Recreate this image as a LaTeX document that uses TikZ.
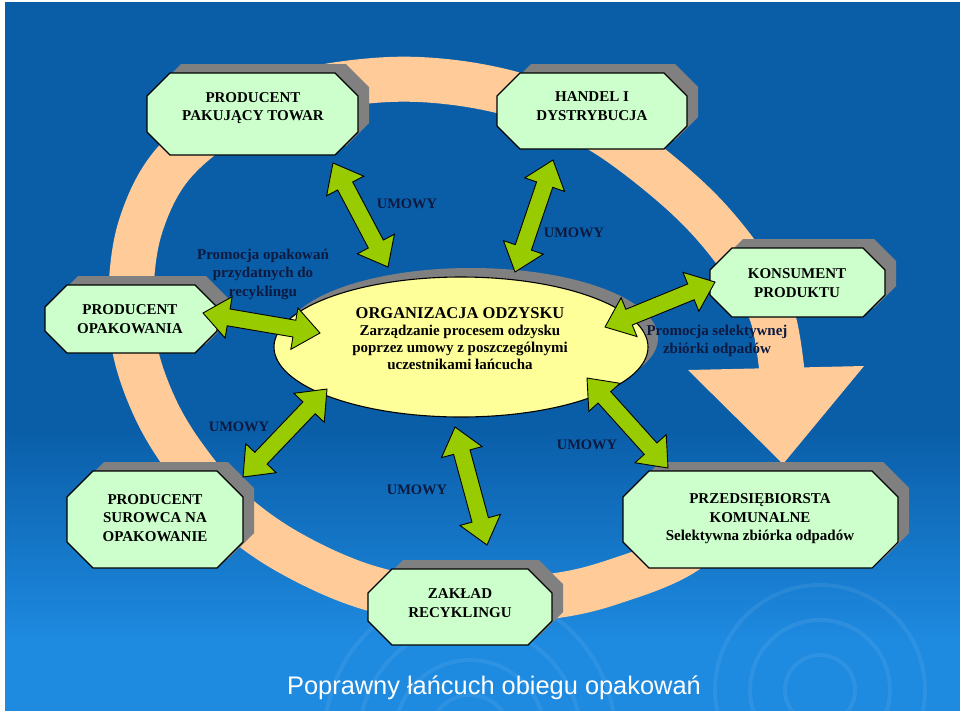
\documentclass[tikz,border=0pt]{standalone}
\usepackage{fontspec}
\setmainfont{Liberation Serif}
\newfontfamily\titlefont{Liberation Sans}
\usetikzlibrary{calc}
\definecolor{bgdark}{HTML}{0A5EA8}
\definecolor{bglight}{HTML}{1E8AE0}
\definecolor{peach}{HTML}{FFCC99}
\definecolor{boxgreen}{HTML}{CCFFCC}
\definecolor{shadowgray}{HTML}{808080}
\definecolor{ellyellow}{HTML}{FFFF99}
\definecolor{arrowgreen}{HTML}{99CC00}
\definecolor{navy}{HTML}{0D1A40}
\tikzset{
 boxtext/.style={align=center, font=\bfseries\fontsize{15}{18.5}\selectfont, text=black, inner sep=0pt},
 lbl/.style={align=center, font=\bfseries\fontsize{15}{18.5}\selectfont, text=navy, inner sep=0pt},
 umowy/.style={font=\bfseries\fontsize{14.5}{17}\selectfont, text=navy, inner sep=0pt},
 garrow/.style={fill=arrowgreen, draw=black, line width=0.9pt, line join=miter},
 octfill/.style={fill=boxgreen, draw=black, line width=1.1pt},
 octshadow/.style={fill=shadowgray},
 ripple/.style={draw=white, opacity=0.07, line width=4pt},
}
\newcommand\octpath[5]{({#1+#5},#2) -- ({#3-#5},#2) -- (#3,{#2+#5}) -- (#3,{#4-#5}) -- ({#3-#5},#4) -- ({#1+#5},#4) -- (#1,{#4-#5}) -- (#1,{#2+#5}) -- cycle}
\newcommand\octbox[5]{\fill[octshadow,shift={(11,-9)}] \octpath{#1}{#2}{#3}{#4}{#5}; \draw[octfill] \octpath{#1}{#2}{#3}{#4}{#5};}
\newcommand\dblarrow[2]{%
 \path ($(#1)!26pt!(#2)$) coordinate (ha) ($(#2)!26pt!(#1)$) coordinate (hb);
 \draw[garrow] (#1) -- ($(ha)!21pt!90:(#2)$) -- ($(ha)!8.5pt!90:(#2)$) -- ($(hb)!8.5pt!-90:(#1)$) -- ($(hb)!21pt!-90:(#1)$) -- (#2) -- ($(hb)!21pt!90:(#1)$) -- ($(hb)!8.5pt!90:(#1)$) -- ($(ha)!8.5pt!-90:(#2)$) -- ($(ha)!21pt!-90:(#2)$) -- cycle;}
\begin{document}
\begin{tikzpicture}[x=1pt,y=-1pt]
\useasboundingbox (0,0) rectangle (960,716);
% background
\fill[white] (0,0) rectangle (960,716);
\fill[bgdark] (5,2) rectangle (960,711);
\shade[top color=bgdark, bottom color=bglight] (5,430) rectangle (960,640);
\fill[bglight] (5,639) rectangle (960,711);
\foreach \r in {40,75,110,145} {\draw[ripple] (470,735) circle (\r pt);}
\foreach \r in {35,70,105} {\draw[ripple] (820,690) circle (\r pt);}
% peach ring
\draw[peach, line width=45pt] plot[smooth, tension=0.6] coordinates {(725,520) (680,555) (625,578) (560,595) (460,603) (370,588) (290,553) (230,510) (188,462) (156,410) (135,350) (131,290) (141,225) (172,165) (230,118) (300,92) (380,80) (450,82) (520,96) (585,122) (640,158) (700,210) (745,265) (772,315) (782,372)};
\fill[peach] (688,370) -- (864,366) -- (783,464) -- cycle;
% central ellipse
\fill[shadowgray] (471,338) ellipse [x radius=187pt, y radius=70pt];
\draw[fill=ellyellow, line width=1.1pt] (461,347) ellipse [x radius=187pt, y radius=70pt];
\coordinate (org) at (461,347);
% boxes
\octbox{147}{73}{358}{155}{23}
\octbox{497}{73}{687}{149}{23}
\octbox{45}{285}{217}{353}{22}
\octbox{710}{248}{885}{317}{22}
\octbox{67}{471}{243}{568}{26}
\octbox{623}{471}{898}{568}{26}
\octbox{368}{569}{552}{645}{24}
\node[boxtext] (pakujacy) at (253,108) {PRODUCENT\\PAKUJĄCY TOWAR};
\node[boxtext] (handel) at (592,106) {HANDEL I\\DYSTRYBUCJA};
\node[boxtext] (opak) at (130,319) {PRODUCENT\\OPAKOWANIA};
\node[boxtext] (konsument) at (797,283) {KONSUMENT\\PRODUKTU};
\node[boxtext] (surowiec) at (155,518) {PRODUCENT\\SUROWCA NA\\OPAKOWANIE};
\node[boxtext] (komunalne) at (760,519) {PRZEDSIĘBIORSTA\\KOMUNALNE\\Selektywna zbiórka odpadów};
\node[boxtext] (zaklad) at (460,603) {ZAKŁAD\\RECYKLINGU};
% arrow end points
\coordinate (a1s) at (333,163); \coordinate (a1e) at (388,267);
\coordinate (a2s) at (553,160); \coordinate (a2e) at (515,272);
\coordinate (a3s) at (203,313); \coordinate (a3e) at (320,333);
\coordinate (a4s) at (605,327); \coordinate (a4e) at (715,282);
\coordinate (a5s) at (327,389); \coordinate (a5e) at (243,477);
\coordinate (a6s) at (455,427); \coordinate (a6e) at (487,545);
\coordinate (a7s) at (587,378); \coordinate (a7e) at (668,468);
\dblarrow{a1s}{a1e}
\dblarrow{a2s}{a2e}
\dblarrow{a3s}{a3e}
\dblarrow{a4s}{a4e}
\dblarrow{a5s}{a5e}
\dblarrow{a6s}{a6e}
\dblarrow{a7s}{a7e}
% ellipse text
\node[align=center, inner sep=0pt, text=black, font=\bfseries\fontsize{15}{17}\selectfont] (orgtext) at (460,339) {{\fontsize{16.5}{18}\selectfont ORGANIZACJA ODZYSKU}\\Zarządzanie procesem odzysku\\poprzez umowy z poszczególnymi\\uczestnikami łańcucha};
% labels
\node[umowy] (u1) at (407,204) {UMOWY};
\node[umowy] (u2) at (574,233) {UMOWY};
\node[umowy] (u3) at (239,427) {UMOWY};
\node[umowy] (u4) at (417,490) {UMOWY};
\node[umowy] (u5) at (587,445) {UMOWY};
\node[lbl] (promo1) at (263,274) {Promocja opakowań\\przydatnych do\\recyklingu};
\node[lbl] (promo2) at (717,341) {Promocja selektywnej\\zbiórki odpadów};
% title
\node[font=\titlefont\fontsize{25.4}{30}\selectfont, text=white, inner sep=0pt] (title) at (494,688) {Poprawny łańcuch obiegu opakowań};
\end{tikzpicture}
\end{document}
